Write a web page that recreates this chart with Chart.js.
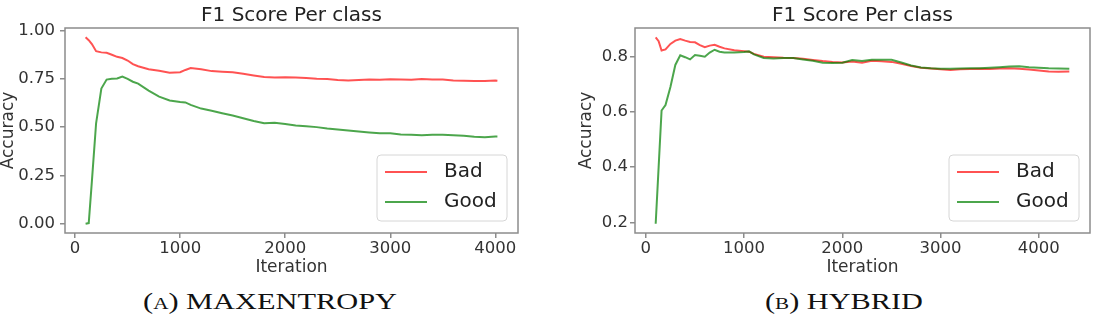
<!DOCTYPE html>
<html>
<head>
<meta charset="utf-8">
<script src="https://cdn.jsdelivr.net/npm/chart.js@4/dist/chart.umd.min.js"></script>
<style>
html,body{margin:0;padding:0;background:#fff;width:1095px;height:317px;overflow:hidden;position:relative}
.box{position:absolute;top:0;height:280px}
#wa{left:0;width:540px}
#wb{left:548px;width:547px}
.cap{position:absolute;top:290px;font-family:"Liberation Serif",serif;font-size:23px;line-height:23px;color:#111;white-space:nowrap;transform-origin:0 0}
.cap .sc{font-variant:small-caps}
</style>
</head>
<body>
<div class="box" id="wa"><canvas id="ca" width="540" height="280"></canvas></div>
<div class="box" id="wb"><canvas id="cb" width="547" height="280"></canvas></div>
<div class="cap" id="capA" data-left="143" data-width="254">(<span class="sc">a</span>) MAXENTROPY</div>
<div class="cap" id="capB" data-left="765" data-width="158">(<span class="sc">b</span>) HYBRID</div>
<script>
// ---------- data ----------
const seriesNames = ['Bad', 'Good'];
const chartTitle = 'F1 Score Per class';
const xAxisTitle = 'Iteration';
const yAxisTitle = 'Accuracy';

const xTicks = [0, 1000, 2000, 3000, 4000];
const yTicksA = [0.00, 0.25, 0.50, 0.75, 1.00];
const yTicksB = [0.2, 0.4, 0.6, 0.8];

// (A) MAXENTROPY
const iterA = [100,130,160,200,250,300,350,400,450,500,550,600,700,800,900,1000,1050,1100,1200,1300,1400,1500,1600,1700,1800,1900,2000,2100,2200,2300,2400,2500,2600,2700,2800,2900,3000,3100,3200,3300,3400,3500,3600,3700,3800,3900,4000,4020];
const badA  = [0.965,0.950,0.930,0.893,0.887,0.885,0.875,0.864,0.858,0.845,0.826,0.815,0.800,0.792,0.782,0.784,0.796,0.806,0.800,0.790,0.787,0.784,0.776,0.767,0.759,0.757,0.758,0.757,0.754,0.750,0.749,0.744,0.741,0.744,0.747,0.745,0.748,0.747,0.745,0.749,0.747,0.746,0.742,0.740,0.739,0.739,0.741,0.740];
const goodA = [0.000,0.003,0.220,0.520,0.700,0.746,0.750,0.752,0.762,0.750,0.735,0.725,0.689,0.658,0.638,0.630,0.628,0.615,0.596,0.585,0.572,0.560,0.546,0.532,0.520,0.522,0.516,0.508,0.504,0.500,0.493,0.488,0.482,0.477,0.472,0.468,0.468,0.462,0.460,0.458,0.461,0.461,0.458,0.455,0.450,0.447,0.452,0.452];

// (B) HYBRID
const iterB = [100,130,160,200,250,300,350,400,450,500,550,600,650,700,750,800,900,1000,1050,1100,1200,1300,1400,1500,1600,1700,1800,1900,2000,2100,2200,2300,2400,2500,2600,2700,2800,2900,3000,3100,3200,3300,3400,3500,3600,3700,3800,3900,4000,4100,4200,4310];
const badB  = [0.870,0.856,0.822,0.826,0.846,0.858,0.864,0.858,0.853,0.852,0.842,0.834,0.840,0.843,0.836,0.830,0.823,0.820,0.818,0.810,0.800,0.798,0.796,0.795,0.792,0.788,0.784,0.781,0.779,0.782,0.778,0.785,0.783,0.781,0.774,0.766,0.760,0.757,0.754,0.752,0.754,0.755,0.756,0.755,0.757,0.758,0.756,0.753,0.750,0.746,0.745,0.746];
const goodB = [0.195,0.400,0.605,0.625,0.690,0.770,0.805,0.798,0.790,0.806,0.803,0.800,0.815,0.825,0.818,0.815,0.815,0.817,0.819,0.808,0.795,0.793,0.795,0.795,0.790,0.785,0.778,0.777,0.778,0.788,0.784,0.789,0.789,0.789,0.779,0.768,0.761,0.758,0.756,0.756,0.757,0.758,0.758,0.760,0.762,0.764,0.765,0.762,0.760,0.758,0.757,0.756];

// ---------- styling ----------
const FONT = '"DejaVu Sans", sans-serif';
const RED = 'rgba(255,0,0,0.68)';
const GREEN = 'rgba(0,128,0,0.7)';
const FRAME = '#8c8c8c';

// stretch captions to the reference's caption extents
document.querySelectorAll('.cap').forEach(el => {
  const w = el.getBoundingClientRect().width;
  const target = Number(el.dataset.width);
  el.style.left = el.dataset.left + 'px';
  el.style.transform = 'scale(' + (target / w) + ',1)';
});

function bounds(arr) {
  const lo = Math.min(...arr), hi = Math.max(...arr), m = (hi - lo) * 0.05;
  return {min: lo - m, max: hi + m};
}

const framePlugin = {
  id: 'frame',
  afterDatasetsDraw(chart) {
    const {ctx, chartArea: a} = chart;
    ctx.save();
    ctx.strokeStyle = FRAME;
    ctx.lineWidth = 1.5;
    ctx.strokeRect(a.left, a.top, a.right - a.left, a.bottom - a.top);
    ctx.restore();
  }
};

const boxLegend = {
  id: 'boxLegend',
  afterDraw(chart) {
    const {ctx, chartArea: a} = chart;
    const w = 130, h = 66;
    const bx = a.right - 11 - w, by = a.bottom - 12 - h;
    ctx.save();
    ctx.beginPath();
    ctx.roundRect(bx, by, w, h, 4);
    ctx.fillStyle = 'rgba(255,255,255,0.85)';
    ctx.fill();
    ctx.strokeStyle = '#d6d6d6';
    ctx.lineWidth = 1;
    ctx.stroke();
    chart.data.datasets.forEach((ds, i) => {
      const y = by + 17 + i * 30;
      ctx.beginPath();
      ctx.moveTo(bx + 8, y);
      ctx.lineTo(bx + 50, y);
      ctx.strokeStyle = ds.borderColor;
      ctx.lineWidth = 2;
      ctx.stroke();
      ctx.fillStyle = '#222';
      ctx.font = '20px ' + FONT;
      ctx.textAlign = 'left';
      ctx.textBaseline = 'middle';
      ctx.fillText(ds.label, bx + 67, y);
    });
    ctx.restore();
  }
};

function makeChart(id, iters, bad, good, yTicks, decimals, geo) {
  const xs = bounds(iters);
  const ys = bounds(bad.concat(good));
  return new Chart(document.getElementById(id), {
    type: 'line',
    data: {
      datasets: [
        {label: seriesNames[0], data: iters.map((x, i) => ({x: x, y: bad[i]})),
         borderColor: RED, backgroundColor: RED, borderWidth: 2, pointRadius: 0, tension: 0, order: 1},
        {label: seriesNames[1], data: iters.map((x, i) => ({x: x, y: good[i]})),
         borderColor: GREEN, backgroundColor: GREEN, borderWidth: 2, pointRadius: 0, tension: 0, order: 0}
      ]
    },
    options: {
      responsive: false,
      animation: false,
      layout: {padding: {left: 0, right: geo.right, top: 0, bottom: 0}},
      plugins: {
        legend: {display: false},
        tooltip: {enabled: false},
        title: {display: true, text: chartTitle, fullSize: false, color: '#222',
                font: {family: FONT, size: 20, weight: 'normal', lineHeight: 1.2},
                padding: {top: 4, bottom: 0}}
      },
      scales: {
        x: {
          type: 'linear', min: xs.min, max: xs.max,
          afterBuildTicks: s => { s.ticks = xTicks.map(v => ({value: v})); },
          afterFit: s => { s.height = 47; },
          ticks: {color: '#333', font: {family: FONT, size: 16.5}, padding: 1.3, maxRotation: 0,
                  callback: v => String(v)},
          grid: {display: true, drawOnChartArea: false, drawTicks: true, tickLength: 5, color: FRAME, lineWidth: 1.5},
          border: {display: false},
          title: {display: true, text: xAxisTitle, color: '#333', font: {family: FONT, size: 17, lineHeight: 1.2},
                  padding: {top: 0, bottom: 1.8}}
        },
        y: {
          type: 'linear', min: ys.min, max: ys.max,
          afterBuildTicks: s => { s.ticks = yTicks.map(v => ({value: v})); },
          afterFit: s => { s.width = geo.yWidth; },
          ticks: {color: '#333', font: {family: FONT, size: 16.5}, padding: geo.tickPad,
                  callback: v => Number(v).toFixed(decimals)},
          grid: {display: true, drawOnChartArea: false, drawTicks: true, tickLength: 5, color: FRAME, lineWidth: 1.5},
          border: {display: false},
          title: {display: true, text: yAxisTitle, color: '#333', font: {family: FONT, size: 17, lineHeight: 1},
                  padding: {top: geo.yTitlePad, bottom: 0}}
        }
      }
    },
    plugins: [framePlugin, boxLegend]
  });
}

makeChart('ca', iterA, badA, goodA, yTicksA, 2, {right: 22, yWidth: 65, tickPad: 5, yTitlePad: 0});
makeChart('cb', iterB, badB, goodB, yTicksB, 1, {right: 5, yWidth: 87, tickPad: 2, yTitlePad: 30.5});
</script>
</body>
</html>
